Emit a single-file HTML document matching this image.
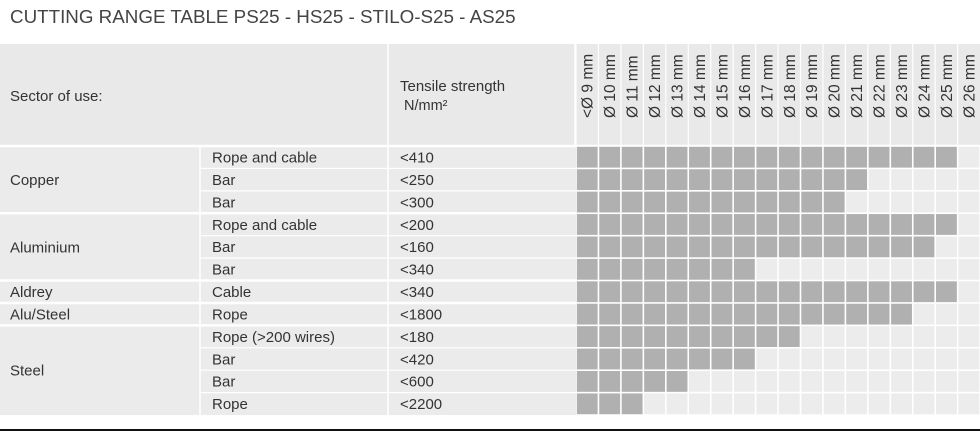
<!DOCTYPE html>
<html><head><meta charset="utf-8"><style>
body{margin:0;background:#fff;width:980px;height:431px;overflow:hidden;font-family:"Liberation Sans",Arial,sans-serif;}
svg text{font-family:"Liberation Sans",Arial,sans-serif;fill:#333;}
</style></head><body>
<svg id="c" width="980" height="431" xmlns="http://www.w3.org/2000/svg"></svg>
<script>
const columns = ["<Ø 9 mm","Ø 10 mm","Ø 11 mm","Ø 12 mm","Ø 13 mm","Ø 14 mm","Ø 15 mm","Ø 16 mm","Ø 17 mm","Ø 18 mm","Ø 19 mm","Ø 20 mm","Ø 21 mm","Ø 22 mm","Ø 23 mm","Ø 24 mm","Ø 25 mm","Ø 26 mm"];
const groups = ["Copper","Aluminium","Aldrey","Alu/Steel","Steel"];
const groupSizes = [3,3,1,1,4];
const types = ["Rope and cable","Bar","Bar","Rope and cable","Bar","Bar","Cable","Rope","Rope (>200 wires)","Bar","Bar","Rope"];
const strengths = ["<410","<250","<300","<200","<160","<340","<340","<1800","<180","<420","<600","<2200"];
const filledCounts = [17,13,12,17,16,8,17,15,10,8,5,3];

const svg=document.getElementById('c');const NS='http://www.w3.org/2000/svg';
function mk(t,a,txt){const e=document.createElementNS(NS,t);for(const k in a)e.setAttribute(k,a[k]);if(txt!=null)e.textContent=txt;svg.appendChild(e);return e;}
const X0=576,CW=22.45,HT=44,HB=145,R0=146,RH=22.42;
const colX=i=>X0+i*CW, rowY=r=>R0+r*RH;

let t=mk('text',{x:10,y:23,'font-size':18.8,style:'fill:#444'},'CUTTING RANGE TABLE PS25 - HS25 - STILO-S25 - AS25');


let h=mk('rect',{x:0,y:HT,width:980,height:HB-HT,fill:'#e9e9e9'});


mk('line',{x1:388,y1:HT,x2:388,y2:HB,stroke:'#fff','stroke-width':1.5});
mk('line',{x1:X0-1,y1:HT,x2:X0-1,y2:HB,stroke:'#fff','stroke-width':1.5});
t=mk('text',{x:10,y:101,'font-size':15},'Sector of use:');


t=mk('text',{x:400,y:91,'font-size':15},'Tensile strength');


mk('text',{x:404,y:110,'font-size':14.5},'N/mm²');
columns.forEach((c,i)=>{
  const cx=colX(i)+CW/2;
  mk('line',{x1:colX(i),y1:HT,x2:colX(i),y2:HB,stroke:'#fff','stroke-width':1.2});
  const e=mk('text',{x:cx+5.5,y:118,'font-size':15.5,transform:`rotate(-90 ${cx+5.5} 118)`},c);
  
  
});
const n=types.length;
mk('rect',{x:0,y:R0,width:X0,height:n*RH,fill:'#ebebeb'});
let r=0;
groups.forEach((g,gi)=>{
  const sz=groupSizes[gi],y0=rowY(r);
  const e=mk('text',{x:10,y:y0+sz*RH/2+5.5,'font-size':15},g);
  
  
  mk('line',{x1:0,y1:y0,x2:980,y2:y0,stroke:'#fff','stroke-width':2.5});
  r+=sz;
});
mk('line',{x1:200,y1:R0,x2:200,y2:rowY(n),stroke:'#fff','stroke-width':1.5});
mk('line',{x1:388,y1:R0,x2:388,y2:rowY(n),stroke:'#fff','stroke-width':1.5});
types.forEach((tp,i)=>{
  const y=rowY(i);
  if(i>0) mk('line',{x1:200,y1:y,x2:X0,y2:y,stroke:'#fff','stroke-width':1.2});
  let e=mk('text',{x:212,y:y+16.5,'font-size':15},tp);
  
  
  e=mk('text',{x:400,y:y+16.5,'font-size':15},strengths[i]);
  
  
  columns.forEach((c,j)=>{
    const f=j<filledCounts[i];
    const cell=mk('rect',{x:colX(j)+0.8,y:y+0.8,width:CW-1.6,height:RH-1.6,fill:f?'#b0b0b0':'#ececec'});
    
    
  });
});
mk('rect',{x:0,y:429,width:980,height:2,fill:'#111'});
</script>
</body></html>
